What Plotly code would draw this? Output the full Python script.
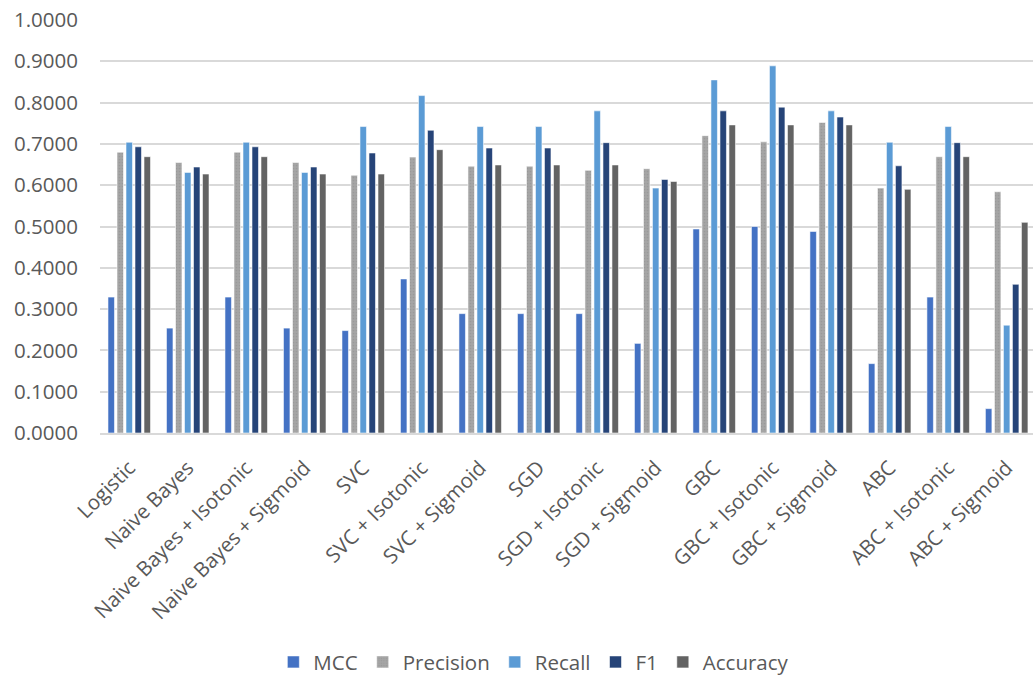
import plotly.graph_objects as go

# Classifier variants on the x axis
models = [
    "Logistic", "Naive Bayes", "Naive Bayes + Isotonic", "Naive Bayes + Sigmoid",
    "SVC", "SVC + Isotonic", "SVC + Sigmoid", "SGD", "SGD + Isotonic",
    "SGD + Sigmoid", "GBC", "GBC + Isotonic", "GBC + Sigmoid", "ABC",
    "ABC + Isotonic", "ABC + Sigmoid",
]

# Metric scores per model
mcc = [0.329, 0.254, 0.329, 0.254, 0.248, 0.373, 0.289, 0.289, 0.289, 0.217,
       0.494, 0.500, 0.488, 0.168, 0.329, 0.059]
precision = [0.680, 0.655, 0.680, 0.655, 0.624, 0.668, 0.646, 0.646, 0.636, 0.640,
             0.720, 0.705, 0.752, 0.593, 0.669, 0.584]
recall = [0.704, 0.631, 0.704, 0.631, 0.742, 0.817, 0.742, 0.742, 0.780, 0.593,
          0.855, 0.889, 0.780, 0.704, 0.742, 0.261]
f1 = [0.693, 0.644, 0.693, 0.644, 0.678, 0.733, 0.690, 0.690, 0.703, 0.614,
      0.780, 0.789, 0.765, 0.647, 0.703, 0.360]
accuracy = [0.669, 0.627, 0.669, 0.627, 0.627, 0.686, 0.649, 0.649, 0.649, 0.609,
            0.746, 0.746, 0.746, 0.590, 0.669, 0.510]

y_ticks = [i / 10 for i in range(11)]

series = [
    ("MCC", mcc, "#4472C4", None),
    ("Precision", precision, "#A5A5A5", dict(shape=".", fgcolor="#8E8E8E", size=3, solidity=0.25)),
    ("Recall", recall, "#5B9BD5", None),
    ("F1", f1, "#264478", None),
    ("Accuracy", accuracy, "#636363", None),
]

fig = go.Figure()
for name, vals, color, pattern in series:
    marker = dict(color=color, line=dict(color="rgba(255,255,255,0.7)", width=0.8))
    if pattern:
        marker["pattern"] = pattern
    fig.add_trace(go.Bar(name=name, x=models, y=vals, marker=marker))

font_family = "Open Sans, Noto Sans, sans-serif"
text_color = "#595959"

fig.update_layout(
    width=1033,
    height=677,
    barmode="group",
    bargap=0.23,
    bargroupgap=0.28,
    plot_bgcolor="white",
    paper_bgcolor="white",
    margin=dict(l=100, r=0, t=20, b=244, autoexpand=False),
    font=dict(family=font_family, color=text_color, size=20.5),
    legend=dict(
        orientation="h",
        x=0.465,
        xanchor="center",
        yref="container",
        y=0.022,
        yanchor="middle",
        font=dict(size=20.5, color=text_color),
        itemwidth=30,
        traceorder="normal",
    ),
    xaxis=dict(
        tickangle=-45,
        range=[-0.5, 15.45],
        showgrid=False,
        showline=True,
        linecolor="#D9D9D9",
        linewidth=1.5,
        ticks="",
        automargin=False,
        ticklabelstandoff=13,
        tickfont=dict(size=20.5, color=text_color),
    ),
    yaxis=dict(
        range=[0, 1.0],
        tickvals=y_ticks,
        tickformat=".4f",
        showgrid=True,
        gridcolor="#D9D9D9",
        gridwidth=1.5,
        zeroline=False,
        showline=False,
        ticks="",
        automargin=False,
        ticklabelstandoff=21,
        tickfont=dict(size=20.5, color=text_color),
    ),
)

fig.write_html("out.html")
